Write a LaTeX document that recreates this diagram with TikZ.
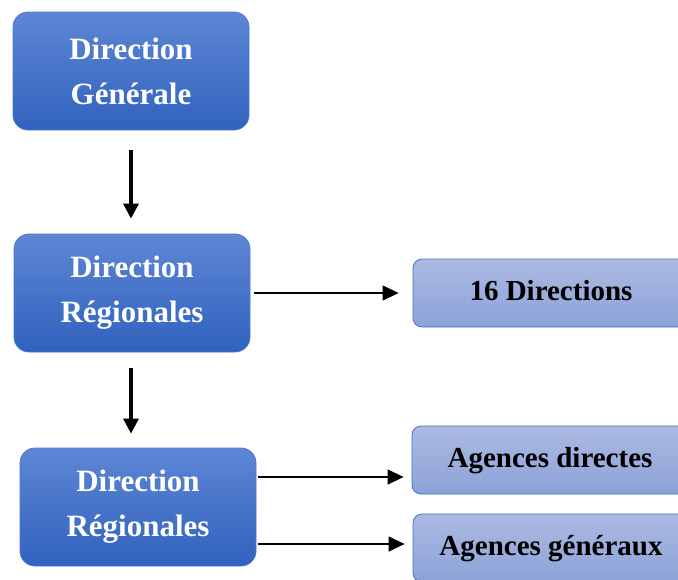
\documentclass[tikz,border=0pt]{standalone}
\usepackage{fontspec}
\setmainfont{Liberation Serif}
\usetikzlibrary{arrows.meta}
\definecolor{dtop}{RGB}{94,134,212}
\definecolor{dbot}{RGB}{48,98,190}
\definecolor{dborder}{RGB}{80,120,205}
\definecolor{ltop}{RGB}{172,186,226}
\definecolor{lbot}{RGB}{140,162,216}
\definecolor{lborder}{RGB}{70,114,196}
\tikzset{
  darkbox/.style={draw=dborder, line width=0.8pt, rounded corners=15pt, top color=dtop, bottom color=dbot,
    minimum width=236pt, minimum height=118pt, align=center, text=white,
    font=\bfseries\fontsize{31}{45}\selectfont, inner sep=0pt},
  lightbox/.style={draw=lborder, line width=0.8pt, rounded corners=9pt, top color=ltop, bottom color=lbot,
    minimum width=276pt, minimum height=68pt, align=center, text=black,
    text height=20pt, text depth=6pt,
    font=\bfseries\fontsize{29}{34}\selectfont, inner sep=0pt},
  varr/.style={line width=3.2pt, -{Triangle[length=15pt,width=15pt]}},
  harr/.style={line width=1.4pt, -{Triangle[length=16pt,width=15pt]}}
}
\begin{document}
\begin{tikzpicture}[x=1pt,y=1pt]
\useasboundingbox (0,0) rectangle (678,-579);
\clip (0,0) rectangle (678,-579);
\node[darkbox] (b1) at (131,-71) {Direction\\Générale};
\node[darkbox] (b2) at (132,-293) {Direction\\Régionales};
\node[darkbox] (b3) at (138,-507) {Direction\\Régionales};
\node[lightbox] (r1) at (551,-293) {16 Directions};
\node[lightbox] (r2) at (550,-460) {Agences directes};
\node[lightbox] (r3) at (551,-548) {Agences généraux};
\draw[varr, shorten <=20pt, shorten >=15pt] (b1.south -| 131,0) -- (b2.north -| 131,0);
\draw[varr, shorten <=16pt, shorten >=14pt] (b2.south -| 131,0) -- (b3.north -| 131,0);
\draw[harr, shorten <=4pt, shorten >=14pt] (b2.east |- r1.west) -- (r1.west);
\coordinate (y1) at (0,-477);
\coordinate (y2) at (0,-544);
\draw[harr, shorten <=2pt, shorten >=8pt] (b3.east |- y1) -- (r2.west |- y1);
\draw[harr, shorten <=2pt, shorten >=8pt] (b3.east |- y2) -- (r3.west |- y2);
\end{tikzpicture}
\end{document}
